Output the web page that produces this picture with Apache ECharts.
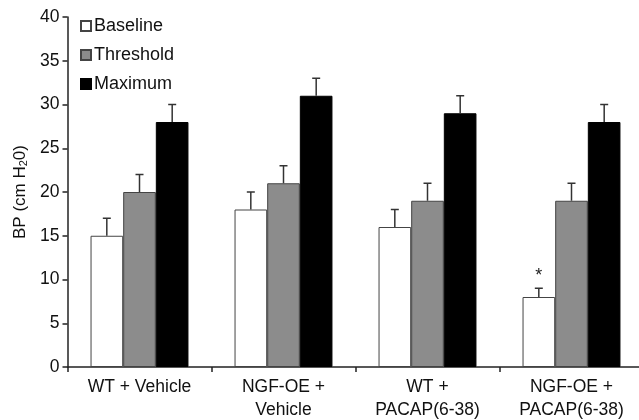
<!DOCTYPE html>
<html>
<head>
<meta charset="utf-8">
<script src="https://cdn.jsdelivr.net/npm/echarts@6/dist/echarts.min.js"></script>
<style>
  html, body { margin: 0; padding: 0; background: #fff; }
  #chart { width: 639px; height: 420px; }
</style>
</head>
<body>
<div id="chart"></div>
<script>
var categories = ['WT + Vehicle', 'NGF-OE +\nVehicle', 'WT +\nPACAP(6-38)', 'NGF-OE +\nPACAP(6-38)'];
var seriesNames = ['Baseline', 'Threshold', 'Maximum'];
var baseline = [15, 18, 16, 8];
var threshold = [20, 21, 19, 19];
var maximum = [28, 31, 29, 28];
var baselineErr = [2, 2, 2, 1];
var thresholdErr = [2, 2, 2, 2];
var maximumErr = [2, 2, 2, 2];
var yTicks = [0, 5, 10, 15, 20, 25, 30, 35, 40];

var colors = ['#ffffff', '#8c8c8c', '#000000'];
var allValues = [baseline, threshold, maximum];
var allErr = [baselineErr, thresholdErr, maximumErr];

var myChart = echarts.init(document.getElementById('chart'));

function errorSeries(idx) {
  var vals = allValues[idx];
  var errs = allErr[idx];
  var data = vals.map(function (v, i) { return [i, v, v + errs[i]]; });
  return {
    type: 'custom',
    name: seriesNames[idx] + ' err',
    z: 5,
    silent: true,
    renderItem: function (params, api) {
      var ci = api.value(0);
      var lo = api.coord([ci, api.value(1)]);
      var hi = api.coord([ci, api.value(2)]);
      var bandW = api.size([1, 0])[0];
      var barW = bandW * 0.227;
      var x = lo[0] + (idx - 1) * barW;
      var cap = 4;
      var style = { stroke: '#333', lineWidth: 1.5 };
      return {
        type: 'group',
        children: [
          { type: 'line', shape: { x1: x, y1: lo[1], x2: x, y2: hi[1] }, style: style },
          { type: 'line', shape: { x1: x - cap, y1: hi[1], x2: x + cap, y2: hi[1] }, style: style }
        ]
      };
    },
    data: data
  };
}

var series = [];
for (var s = 0; s < 3; s++) {
  series.push({
    name: seriesNames[s],
    type: 'bar',
    data: allValues[s],
    barGap: 0,
    barCategoryGap: '32%',
    itemStyle: { color: colors[s], borderColor: s === 2 ? '#000' : '#444', borderWidth: 1 },
    markPoint: s === 0 ? {
      symbol: 'circle',
      symbolSize: 0,
      label: { show: true, formatter: '*', fontSize: 18, color: '#222', fontFamily: 'Liberation Sans', offset: [0, 3] },
      data: [{ coord: [3, 10.7] }]
    } : undefined
  });
}
for (var e = 0; e < 3; e++) series.push(errorSeries(e));

var option = {
  backgroundColor: '#fff',
  animation: false,
  textStyle: { fontFamily: 'Liberation Sans' },
  legend: {
    data: seriesNames,
    orient: 'vertical',
    left: 75,
    top: 12,
    itemWidth: 10,
    itemHeight: 10,
    itemGap: 11,
    icon: 'rect',
    textStyle: { fontSize: 18, color: '#111', padding: [0, 0, 0, -2] }
  },
  grid: { left: 67.5, top: 17, width: 576, bottom: 53, containLabel: false, outerBoundsMode: 'none' },
  xAxis: {
    type: 'category',
    data: categories,
    axisLine: { lineStyle: { color: '#222', width: 1.5 } },
    axisTick: { show: true, length: 5, lineStyle: { color: '#222', width: 1.5 } },
    axisLabel: { fontSize: 17.5, color: '#111', margin: 9, lineHeight: 23 }
  },
  yAxis: {
    type: 'value',
    min: yTicks[0],
    max: yTicks[yTicks.length - 1],
    interval: 5,
    name: 'BP (cm H{sub|2}0)',
    nameLocation: 'middle',
    nameGap: 37,
    nameTextStyle: {
      fontSize: 17, color: '#111',
      rich: { sub: { fontSize: 11, verticalAlign: 'bottom', padding: [7, 0, 0, 0] } }
    },
    splitLine: { show: false },
    axisLine: { show: true, lineStyle: { color: '#222', width: 1.5 } },
    axisTick: { show: true, length: 5, lineStyle: { color: '#222', width: 1.5 } },
    axisLabel: { fontSize: 17.5, color: '#111', margin: 8 }
  },
  series: series
};
myChart.setOption(option);
</script>
</body>
</html>
